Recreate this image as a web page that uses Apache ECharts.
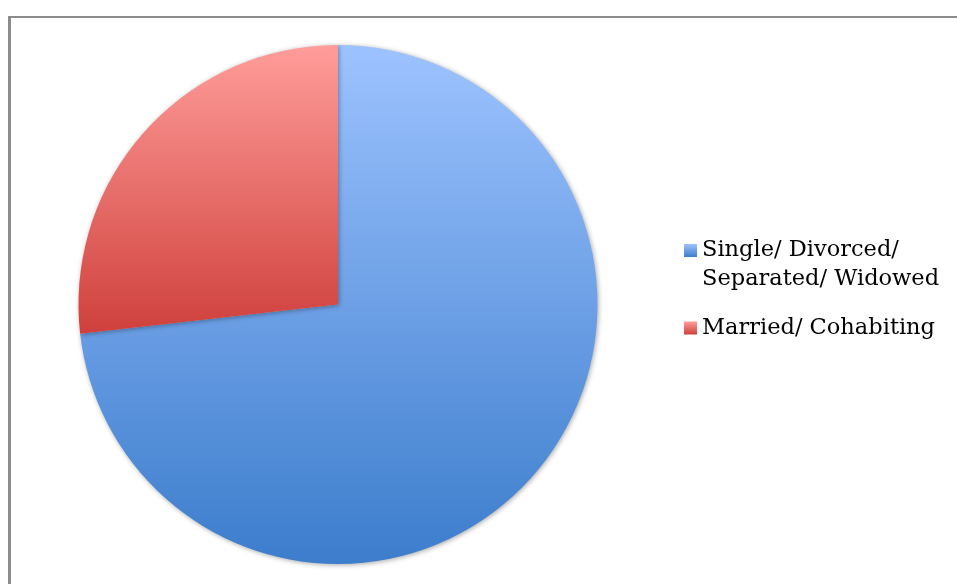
<!DOCTYPE html>
<html>
<head>
<meta charset="utf-8">
<title>Marital status</title>
<script src="https://cdn.jsdelivr.net/npm/echarts@6/dist/echarts.min.js"></script>
<style>
  html, body { margin: 0; padding: 0; background: #ffffff; }
  #chart { width: 957px; height: 584px; }
</style>
</head>
<body>
<div id="chart"></div>
<script>
// Share of respondents by marital status (percent)
const categories = ['Single/ Divorced/\nSeparated/ Widowed', 'Married/ Cohabiting'];
const values = [73.2, 26.8];

// Each slice is shaded top-to-bottom over its own bounding box
const palette = [
  ['#9dc3ff', '#3c7dcc'],
  ['#ff9d9a', '#cf403c']
];
function shade(stops) {
  return new echarts.graphic.LinearGradient(0, 0, 0, 1,
    stops.map(s => ({ offset: s[0], color: s[1] })));
}

// Legend swatches: a square inside a tall invisible frame so that the
// swatch sits beside the first text line
const swatchIcons = [
  'path://M0,0H13V13H0Z M0,42H13',
  'path://M0,0H13 M0,14.5H13V27.5H0Z M0,42H13'
];
const swatchShades = [
  shade([[0, palette[0][0]], [13 / 42, palette[0][1]], [1, palette[0][1]]]),
  shade([[0, palette[1][0]], [14.5 / 42, palette[1][0]], [27.5 / 42, palette[1][1]], [1, palette[1][1]]])
];

const chart = echarts.init(document.getElementById('chart'), null, { renderer: 'canvas' });

const seriesData = categories.map((name, i) => ({
  name: name,
  value: values[i],
  itemStyle: { color: shade([[0, palette[i][0]], [1, palette[i][1]]]) }
}));

chart.setOption({
  animation: false,
  backgroundColor: '#ffffff',
  graphic: [
    { type: 'line', shape: { x1: 9.5, y1: 16, x2: 9.5, y2: 600 }, style: { stroke: '#8c8c8c', lineWidth: 3 } },
    { type: 'line', shape: { x1: 8, y1: 17, x2: 960, y2: 17 }, style: { stroke: '#8c8c8c', lineWidth: 2 } }
  ],
  legend: {
    orient: 'vertical',
    left: 679,
    top: 231,
    itemWidth: 13,
    itemHeight: 42,
    itemGap: 13,
    selectedMode: false,
    textStyle: {
      fontFamily: 'DejaVu Serif',
      fontSize: 22.5,
      color: '#000000',
      lineHeight: 29
    },
    data: categories.map((name, i) => ({
      name: name,
      icon: swatchIcons[i],
      itemStyle: { color: swatchShades[i], borderWidth: 0 }
    }))
  },
  series: [{
    type: 'pie',
    center: [338, 304.5],
    radius: [0, 259.5],
    startAngle: 90,
    clockwise: true,
    label: { show: false },
    labelLine: { show: false },
    emphasis: { disabled: true },
    itemStyle: {
      borderWidth: 0,
      shadowBlur: 5,
      shadowColor: 'rgba(0,0,0,0.35)',
      shadowOffsetX: 1,
      shadowOffsetY: 1
    },
    data: seriesData
  }]
});
</script>
</body>
</html>
